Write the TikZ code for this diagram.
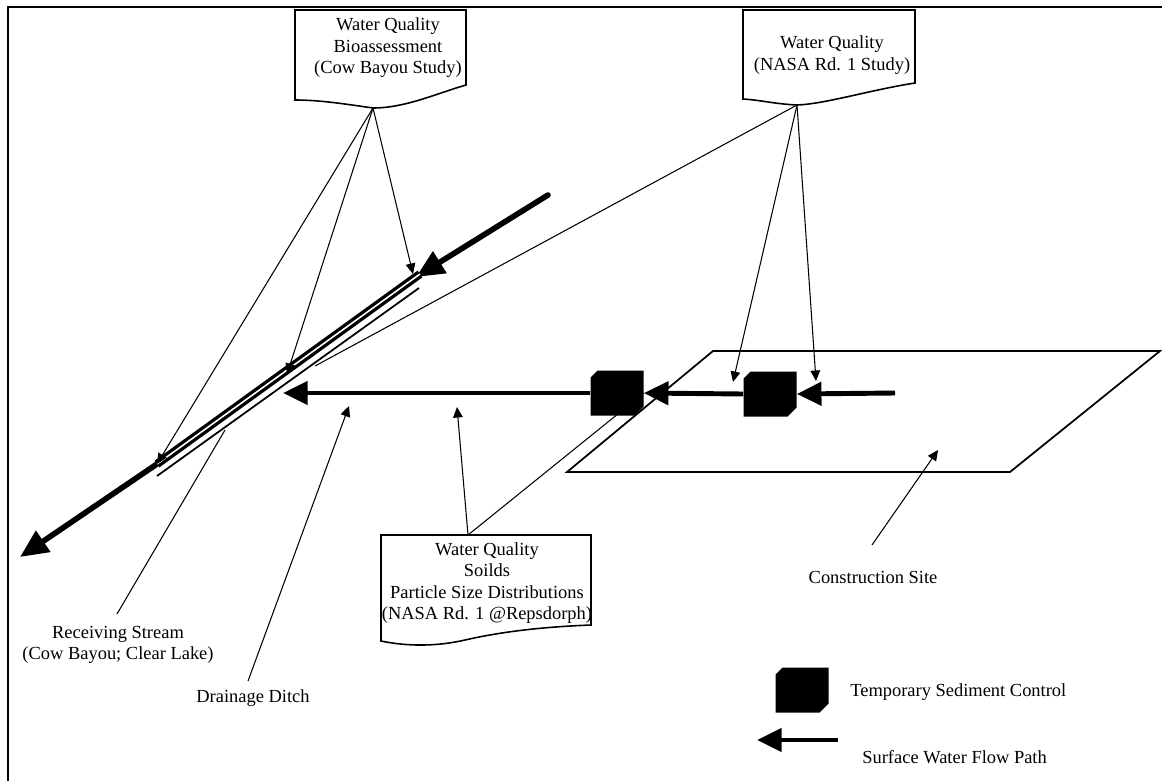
\documentclass[tikz,border=0pt]{standalone}
\usepackage{fontspec}
\setmainfont{Liberation Serif}
\usetikzlibrary{arrows.meta,positioning}

\begin{document}
\begin{tikzpicture}[x=0.02cm,y=-0.02cm,
    lbl/.style={align=center, inner sep=0pt, font=\fontsize{10.5}{12.2}\selectfont},
    callout/.style={draw, line width=0.9pt},
    lead/.style={-{Triangle[length=6pt,width=5.5pt]}, line width=0.6pt},
    leadline/.style={line width=0.6pt},
    flow/.style={-{Triangle[length=14pt,width=13pt]}, line width=2.8pt},
    bigflow/.style={-{Triangle[length=16pt,width=14pt]}, line width=3.2pt},
    sediment/.style={inner sep=0pt, minimum width=1.06cm, minimum height=0.9cm,
      path picture={\fill ([xshift=4pt]path picture bounding box.north west)
        -- (path picture bounding box.north east)
        -- ([yshift=5pt]path picture bounding box.south east)
        -- ([xshift=-5pt]path picture bounding box.south east)
        -- (path picture bounding box.south west)
        -- ([yshift=-4pt]path picture bounding box.north west) -- cycle;}}]
  \useasboundingbox (0,0) rectangle (1162,781);
  \draw[line width=1pt] (8,781) -- (8,7) -- (1162,7);

  % callouts
  \node[lbl] (bio) at (388,48) {Water Quality\\Bioassessment\\(Cow Bayou Study)};
  \coordinate (bioTip) at (373,108);
  \draw[callout] (295,10) -- (466,10) -- (466,85) .. controls (435,94) and (405,108) .. (bioTip)
    .. controls (345,104) and (320,100) .. (295,100) -- cycle;

  \node[lbl] (nasa) at (832,55) {Water Quality\\(NASA Rd. 1 Study)};
  \coordinate (nasaTip) at (797,105);
  \draw[callout] (743,10) -- (915,10) -- (915,83) .. controls (870,90) and (825,104) .. (nasaTip)
    .. controls (775,104) and (760,100) .. (743,99) -- cycle;

  \node[lbl] (soils) at (487,583) {Water Quality\\Soilds\\Particle Size Distributions\\(NASA Rd. 1 @Repsdorph)};
  \coordinate (soilsTip) at (468,535);
  \draw[callout] (381,535) -- (591,535) -- (591,625) .. controls (540,627) and (500,632) .. (465,640)
    .. controls (430,648) and (400,645) .. (381,641) -- cycle;

  % construction site
  \draw[line width=1pt] (713,351) -- (1160,351) -- (1010,472) -- (567,472) -- cycle;
  \coordinate (siteIn) at (938,450);
  \node[lbl] (site) at (873,577) {Construction Site};

  % stream
  \coordinate (streamIn) at (548,195);
  \coordinate (streamA) at (416,277);
  \coordinate (streamB) at (157,464);
  \coordinate (streamOut) at (20,557);
  \draw[bigflow, line cap=round] (streamIn) -- (streamA);
  \draw[double, double distance=0.9pt, line width=1.9pt] (420,274) -- (streamB);
  \draw[bigflow] (streamB) -- (streamOut);
  \draw[line width=1pt] (419,288) -- (157,476);

  % ditch flow
  \node[sediment] (sedL) at (617,393) {};
  \node[sediment] (sedR) at (770,394) {};
  \coordinate (flowStart) at (895,393);
  \coordinate (ditchEnd) at (283,393);
  \draw[flow] (flowStart) -- (sedR.east);
  \draw[flow] (sedR.west) -- (sedL.east);
  \draw[flow] (sedL.west) -- (ditchEnd);

  % pointers
  \draw[lead] (bioTip) -- (streamB);
  \draw[lead] (bioTip) -- (287,374);
  \draw[lead] (bioTip) -- (413,274);
  \draw[lead] (nasaTip) -- (733,382);
  \draw[lead] (nasaTip) -- (816,381);
  \draw[leadline] (nasaTip) -- (315,366);
  \draw[lead] (soilsTip) -- (457,407);
  \draw[leadline] (soilsTip) -- (sedL.east);
  \draw[lead] (872,545) -- (siteIn);

  \node[lbl] (receiving) at (118,645) {Receiving Stream\\(Cow Bayou; Clear Lake)};
  \draw[leadline] (117,614) -- (225,430);
  \node[lbl] (ditch) at (253,698) {Drainage Ditch};
  \draw[lead] (248,681) -- (349,406);

  % legend
  \node[sediment] (keySed) at (802,690) {};
  \node[lbl, anchor=west] (keySedText) at (850,692) {Temporary Sediment Control};
  \coordinate (keyFlowA) at (838,740);
  \coordinate (keyFlowB) at (757,740);
  \draw[flow] (keyFlowA) -- (keyFlowB);
  \node[lbl, anchor=west] (keyFlowText) at (862,757) {Surface Water Flow Path};
\end{tikzpicture}
\end{document}
